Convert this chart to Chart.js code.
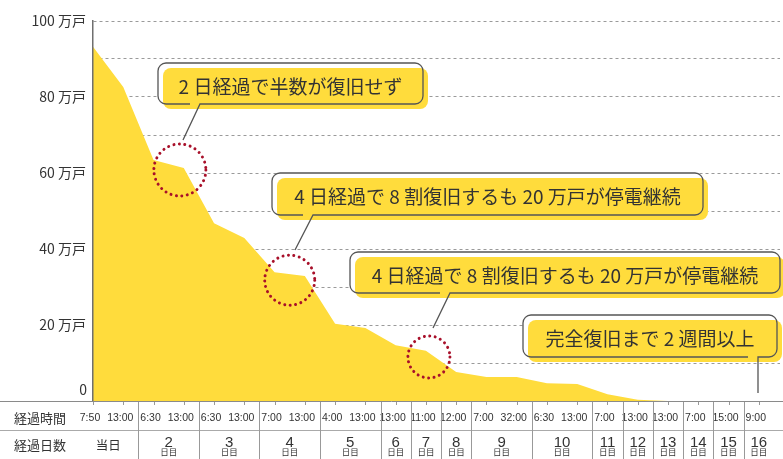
<!DOCTYPE html>
<html lang="ja">
<head>
<meta charset="UTF-8">
<title>停電戸数の推移</title>
<script src="https://cdn.jsdelivr.net/npm/chart.js@4"></script>
<style>
  html, body { margin: 0; padding: 0; background: #fff; }
  #wrap { width: 783px; height: 459px; }
</style>
</head>
<body>
<div id="wrap"><canvas id="chart" width="783" height="459"></canvas></div>
<script>
// 停電戸数（万戸）: 経過時間ごと
const outageValues = [93.2, 82.6, 63.4, 61.3, 46.8, 42.9, 33.9, 32.9, 20.3, 19.2, 14.7, 13.2,
                      7.6, 6.3, 6.3, 4.7, 4.5, 1.8, 0.3, 0, 0, 0, 0];
const timeLabels = ['7:50', '13:00', '6:30', '13:00', '6:30', '13:00', '7:00', '13:00', '4:00', '13:00',
                    '13:00', '11:00', '12:00', '7:00', '32:00', '6:30', '13:00', '7:00', '13:00', '13:00',
                    '7:00', '15:00', '9:00'];
const dayLabels = ['当日', '2', '3', '4', '5', '6', '7', '8', '9', '10', '11', '12', '13', '14', '15', '16'];
const dayPointCounts = [2, 2, 2, 2, 2, 1, 1, 1, 2, 2, 1, 1, 1, 1, 1, 1];

const YELLOW = '#FFDC3C';
const TEXT = '#333';
const JP = '"Noto Sans CJK JP", "Noto Sans", sans-serif';

// 吹き出し (outline box x, y, w, h / tail start x, tip x, tip y)
const callouts = [
  { text: '2 日経過で半数が復旧せず', box: [158, 63, 265, 41], tail: [200, 183, 140] },
  { text: '4 日経過で 8 割復旧するも 20 万戸が停電継続', box: [272, 173, 431, 42], tail: [313, 295, 250] },
  { text: '4 日経過で 8 割復旧するも 20 万戸が停電継続', box: [350, 252, 430, 41], tail: [450, 433, 328] },
  { text: '完全復旧まで 2 週間以上', box: [523, 315, 254, 42], tail: [758, 758, 393] }
];
// dotted circles, anchored in data units (index, value), radius px
const circles = [
  { at: [2.87, 60.8], r: 26 },
  { at: [6.5, 31.8], r: 25 },
  { at: [11.1, 11.6], r: 21 }
];

function line(ctx, x1, y1, x2, y2) {
  ctx.beginPath(); ctx.moveTo(x1, y1); ctx.lineTo(x2, y2); ctx.stroke();
}

function roundRect(ctx, x, y, w, h, r) {
  ctx.beginPath();
  ctx.moveTo(x + r, y);
  ctx.arcTo(x + w, y, x + w, y + h, r);
  ctx.arcTo(x + w, y + h, x, y + h, r);
  ctx.arcTo(x, y + h, x, y, r);
  ctx.arcTo(x, y, x + w, y, r);
  ctx.closePath();
}

function drawBubble(ctx, c) {
  const [x, y, w, h] = c.box;
  const [tx, ex, ey] = c.tail;
  const r = 8, b = y + h;
  ctx.fillStyle = '#fff';
  roundRect(ctx, x, y, w, h, r); ctx.fill();
  ctx.fillStyle = YELLOW;
  roundRect(ctx, x + 5, y + 5, w, h, r); ctx.fill();

  ctx.strokeStyle = '#555';
  ctx.lineWidth = 1.3;
  ctx.beginPath();
  ctx.moveTo(tx - 10, b);
  ctx.lineTo(x + r, b);
  ctx.arcTo(x, b, x, b - r, r);
  ctx.lineTo(x, y + r);
  ctx.arcTo(x, y, x + r, y, r);
  ctx.lineTo(x + w - r, y);
  ctx.arcTo(x + w, y, x + w, y + r, r);
  ctx.lineTo(x + w, b - r);
  ctx.arcTo(x + w, b, x + w - r, b, r);
  ctx.lineTo(tx, b);
  ctx.lineTo(ex, ey);
  ctx.stroke();

  ctx.fillStyle = TEXT;
  ctx.font = '19px ' + JP;
  ctx.textAlign = 'center';
  ctx.textBaseline = 'middle';
  ctx.fillText(c.text, x + w / 2, y + h / 2 + 3);
}

const overlayPlugin = {
  id: 'overlay',
  afterDraw(chart) {
    const ctx = chart.ctx;
    const xs = chart.scales.x, ys = chart.scales.y;
    const px = i => xs.getPixelForValue(i);
    const top = chart.chartArea.bottom;
    const W = chart.width, H = chart.height;
    ctx.save();

    // y "0" label sits a little above the axis bottom
    ctx.fillStyle = TEXT;
    ctx.font = '14px ' + JP;
    ctx.textAlign = 'right';
    ctx.textBaseline = 'middle';
    ctx.fillText('0', 87, ys.getPixelForValue(0) - 11);

    // table below the chart
    ctx.strokeStyle = '#8a8a8a';
    ctx.lineWidth = 1;
    line(ctx, 0, top + 0.5, W, top + 0.5);
    ctx.strokeStyle = '#aaa';
    line(ctx, 0, top + 29.5, W, top + 29.5);

    ctx.fillStyle = TEXT;
    ctx.font = '13px ' + JP;
    ctx.textAlign = 'left';
    ctx.fillText('経過時間', 14, top + 17);
    ctx.fillText('経過日数', 14, top + 44);

    ctx.strokeStyle = '#999';
    ctx.font = '10.5px "Liberation Sans", Arial, sans-serif';
    ctx.textAlign = 'center';
    timeLabels.forEach((t, i) => {
      const x = Math.round(px(i)) + 0.5;
      line(ctx, x, top + 1, x, top + 4);
      ctx.fillText(t, px(i) - 3, top + 17);
    });

    let start = 0;
    dayLabels.forEach((d, g) => {
      const n = dayPointCounts[g];
      if (g > 0) {
        const sx = Math.round(px(start - 0.5)) + 0.5;
        line(ctx, sx, top + 1, sx, H);
      }
      const cx = (px(start) + px(start + n - 1)) / 2;
      if (g === 0) {
        ctx.font = '12.5px ' + JP;
        ctx.fillText(d, cx, top + 44);
      } else {
        ctx.font = '15px "Liberation Sans", Arial, sans-serif';
        ctx.fillText(d, cx, top + 42);
        ctx.font = '8.5px ' + JP;
        ctx.fillText('日目', cx, top + 51);
      }
      start += n;
    });

    // dotted red circles
    ctx.strokeStyle = '#A8102A';
    ctx.lineWidth = 3;
    ctx.lineCap = 'round';
    ctx.setLineDash([0.01, 5.5]);
    circles.forEach(c => {
      ctx.beginPath();
      ctx.arc(xs.getPixelForValue(c.at[0]), ys.getPixelForValue(c.at[1]), c.r, 0, Math.PI * 2);
      ctx.stroke();
    });
    ctx.setLineDash([]);
    ctx.lineCap = 'butt';

    callouts.forEach(c => drawBubble(ctx, c));
    ctx.restore();
  }
};

const ctx = document.getElementById('chart').getContext('2d');
new Chart(ctx, {
  type: 'line',
  data: {
    datasets: [{
      data: outageValues.map((v, i) => ({ x: i, y: v })),
      fill: 'origin',
      backgroundColor: YELLOW,
      borderWidth: 0,
      pointRadius: 0,
      tension: 0
    }]
  },
  options: {
    responsive: false,
    animation: false,
    layout: { padding: { top: 21, right: 3, left: 0, bottom: 0 } },
    plugins: { legend: { display: false }, tooltip: { enabled: false } },
    scales: {
      x: {
        type: 'linear',
        min: 0,
        max: 22.7,
        grid: { display: false },
        border: { display: false },
        ticks: { display: false },
        afterFit(s) { s.height = 58; }
      },
      y: {
        min: 0,
        max: 100,
        ticks: {
          stepSize: 10,
          padding: 7,
          color: TEXT,
          font: { family: JP, size: 14 },
          callback: v => (v > 0 && v % 20 === 0) ? v + ' 万戸' : ''
        },
        grid: { color: '#9a9a9a', lineWidth: 1, drawTicks: false },
        border: { display: true, color: '#6f6f6f', width: 1.5, dash: [3, 3], z: 1 },
        afterFit(s) { s.width = 93; }
      }
    }
  },
  plugins: [overlayPlugin]
});
</script>
</body>
</html>
